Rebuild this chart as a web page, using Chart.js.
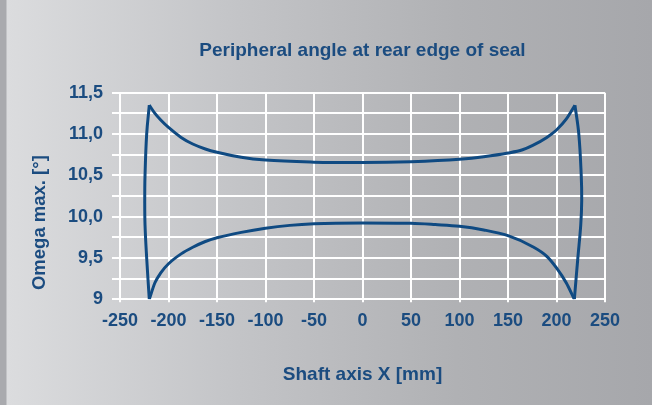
<!DOCTYPE html>
<html>
<head>
<meta charset="utf-8">
<script src="https://cdn.jsdelivr.net/npm/chart.js@4/dist/chart.umd.min.js"></script>
<style>
  html, body { margin: 0; padding: 0; }
  body {
    width: 652px; height: 405px; overflow: hidden;
    background: linear-gradient(to right, #a9aaae 0px, #a9aaae 6px, #dbdcde 7px, #c4c5c8 35%, #b0b1b4 70%, #a6a7ab 100%);
  }
  #wrap { width: 652px; height: 405px; }
</style>
</head>
<body>
<div id="wrap"><canvas id="chart" width="652" height="405"></canvas></div>
<script>
// upper branch of the loop (x in mm, omega in deg)
var upperX = [-219.8, -214, -208, -200, -187, -175, -162, -150, -125, -100, -50, 0, 50, 100, 125, 150, 165, 175, 190, 200, 210, 219];
var upperY = [11.35, 11.25, 11.17, 11.08, 10.96, 10.88, 10.82, 10.78, 10.72, 10.685, 10.66, 10.655, 10.665, 10.695, 10.725, 10.77, 10.81, 10.86, 10.96, 11.05, 11.18, 11.35];
// lower branch
var lowerX = [-219.8, -214, -208, -200, -187, -175, -162, -150, -125, -100, -75, -50, 0, 50, 75, 100, 125, 150, 175, 190, 200, 210, 218.4];
var lowerY = [9.0, 9.2, 9.32, 9.43, 9.55, 9.63, 9.70, 9.745, 9.81, 9.86, 9.895, 9.915, 9.925, 9.92, 9.905, 9.885, 9.84, 9.77, 9.64, 9.52, 9.38, 9.2, 9.0];
// left and right closing edges
var leftX = [-219.8, -222.5, -224.2, -224.5, -224.2, -222.5, -219.8];
var leftY = [11.35, 11.0, 10.5, 10.2, 9.9, 9.5, 9.0];
var rightX = [219, 223, 225.5, 226, 225, 222, 218.4];
var rightY = [11.35, 11.0, 10.5, 10.2, 9.9, 9.5, 9.0];

var xTicks = [-250, -200, -150, -100, -50, 0, 50, 100, 150, 200, 250];

var textColor = '#1b4c80';
var lineColor = '#0f4a82';

function toPoints(xs, ys) {
    var pts = [];
    for (var i = 0; i < xs.length; i++) {
        pts.push({x: xs[i], y: ys[i]});
    }
    return pts;
}

function branch(xs, ys, monotone) {
    var ds = {
        data: toPoints(xs, ys),
        showLine: true,
        borderColor: lineColor,
        borderWidth: 3,
        pointRadius: 0,
        tension: 0.4,
        fill: false
    };
    if (monotone) {
        ds.cubicInterpolationMode = 'monotone';
    }
    return ds;
}

var ctx = document.getElementById('chart').getContext('2d');
var chart = new Chart(ctx, {
    type: 'scatter',
    data: {
        datasets: [
            branch(upperX, upperY, true),
            branch(lowerX, lowerY, true),
            branch(leftX, leftY, false),
            branch(rightX, rightY, false)
        ]
    },
    options: {
        responsive: false,
        animation: false,
        layout: {
            padding: {left: 0, right: 47, top: 0, bottom: 0}
        },
        scales: {
            x: {
                type: 'linear',
                min: -250,
                max: 250,
                afterBuildTicks: function(scale) {
                    scale.ticks = xTicks.map(function(v) { return {value: v}; });
                },
                afterFit: function(scale) { scale.height = 105.7; },
                grid: {
                    color: '#ffffff',
                    lineWidth: 2,
                    tickLength: 3
                },
                border: { color: '#ffffff', width: 2 },
                ticks: {
                    color: textColor,
                    font: { family: 'Liberation Sans', size: 18, weight: 'bold' },
                    padding: 8,
                    maxRotation: 0,
                    autoSkip: false
                },
                title: {
                    display: true,
                    text: 'Shaft axis X [mm]',
                    color: textColor,
                    font: { family: 'Liberation Sans', size: 19, weight: 'bold' },
                    padding: { top: 0, bottom: 18.5 }
                }
            },
            y: {
                type: 'linear',
                min: 9,
                max: 11.5,
                afterFit: function(scale) { scale.width = 120; },
                grid: {
                    color: '#ffffff',
                    lineWidth: 2,
                    tickLength: 8
                },
                border: { color: '#ffffff', width: 2 },
                ticks: {
                    stepSize: 0.25,
                    autoSkip: false,
                    color: textColor,
                    font: { family: 'Liberation Sans', size: 18, weight: 'bold' },
                    padding: 9,
                    callback: function(value) {
                        if (Math.abs(value * 2 - Math.round(value * 2)) > 1e-6) {
                            return '';
                        }
                        if (Math.abs(value - 9) < 1e-6) {
                            return '9';
                        }
                        return value.toFixed(1).replace('.', ',');
                    }
                },
                title: {
                    display: true,
                    text: '\u2002Omega max. [°]',
                    align: 'start',
                    color: textColor,
                    font: { family: 'Liberation Sans', size: 18.5, weight: 'bold' },
                    padding: { top: 28.5, bottom: 0 }
                }
            }
        },
        plugins: {
            legend: { display: false },
            tooltip: { enabled: false },
            title: {
                display: true,
                fullSize: false,
                text: 'Peripheral angle at rear edge of seal',
                color: textColor,
                font: { family: 'Liberation Sans', size: 19, weight: 'bold' },
                padding: { top: 39.5, bottom: 30.5 }
            }
        }
    }
});
</script>
</body>
</html>
